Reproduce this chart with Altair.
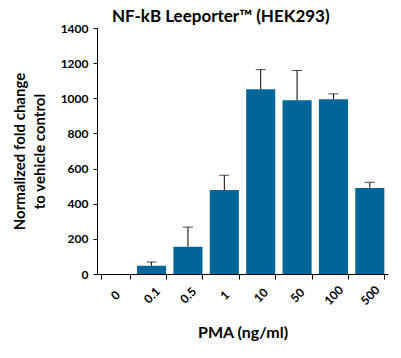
import altair as alt
import pandas as pd

doses = ["0", "0.1", "0.5", "1", "10", "50", "100", "500"]
means = [0, 47, 155, 478, 1052, 989, 995, 490]
errors = [0, 21, 112, 84, 111, 169, 30, 32]
y_ticks = [0, 200, 400, 600, 800, 1000, 1200, 1400]

df = pd.DataFrame({"dose": doses, "mean": means, "err": errors})
df["upper"] = df["mean"] + df["err"]
df_err = df[df["err"] > 0]

FONT = "Lato"

x_axis = alt.Axis(title="PMA (ng/ml)", labelAngle=-45, labelAlign="center",
                  labelBaseline="middle", labelPadding=16, tickBand="extent",
                  tickSize=5, titlePadding=18, titleFontSize=16)
x_scale = alt.Scale(paddingInner=0.2, paddingOuter=0.1)
y_axis = alt.Axis(title=["Normalized fold change", "to vehicle control"],
                  values=y_ticks, tickCount=8,
                  format="d", labelOverlap=False, labelPadding=5,
                  grid=False, tickSize=4, titlePadding=13, titleFontSize=15,
                  titleLineHeight=20)
y_scale = alt.Scale(domain=[0, 1400], nice=False)

def xenc():
    return alt.X("dose:N", sort=doses, scale=x_scale, axis=x_axis)

bars = alt.Chart(df).mark_bar(color="#006699").encode(
    x=xenc(),
    y=alt.Y("mean:Q", scale=y_scale, axis=y_axis),
)
rules = alt.Chart(df_err).mark_rule(color="black", strokeWidth=1).encode(
    x=xenc(),
    y=alt.Y("mean:Q", scale=y_scale, axis=y_axis), y2="upper:Q"
)
caps = alt.Chart(df_err).mark_tick(color="black", thickness=1, size=10).encode(
    x=xenc(),
    y=alt.Y("upper:Q", scale=y_scale, axis=y_axis)
)

chart = alt.layer(bars, rules, caps).properties(
    width=291, height=246,
    autosize=alt.AutoSizeParams(type="none"),
    padding={"left": 89, "top": 20, "right": 5, "bottom": 76},
    title=alt.TitleParams("NF-kB Leeporter™ (HEK293)", anchor="start", frame="group",
                          dx=15, fontSize=17, font=FONT, fontWeight="bold", offset=-4),
).configure_view(stroke=None).configure_axis(
    labelFont=FONT, titleFont=FONT, labelFontWeight="bold", titleFontWeight="bold",
    labelFontSize=12, labelColor="black", titleColor="black",
    domainColor="black", tickColor="black", domainWidth=1, tickWidth=1,
)

chart.save("out.html", embed_options={"renderer": "svg", "actions": False})
